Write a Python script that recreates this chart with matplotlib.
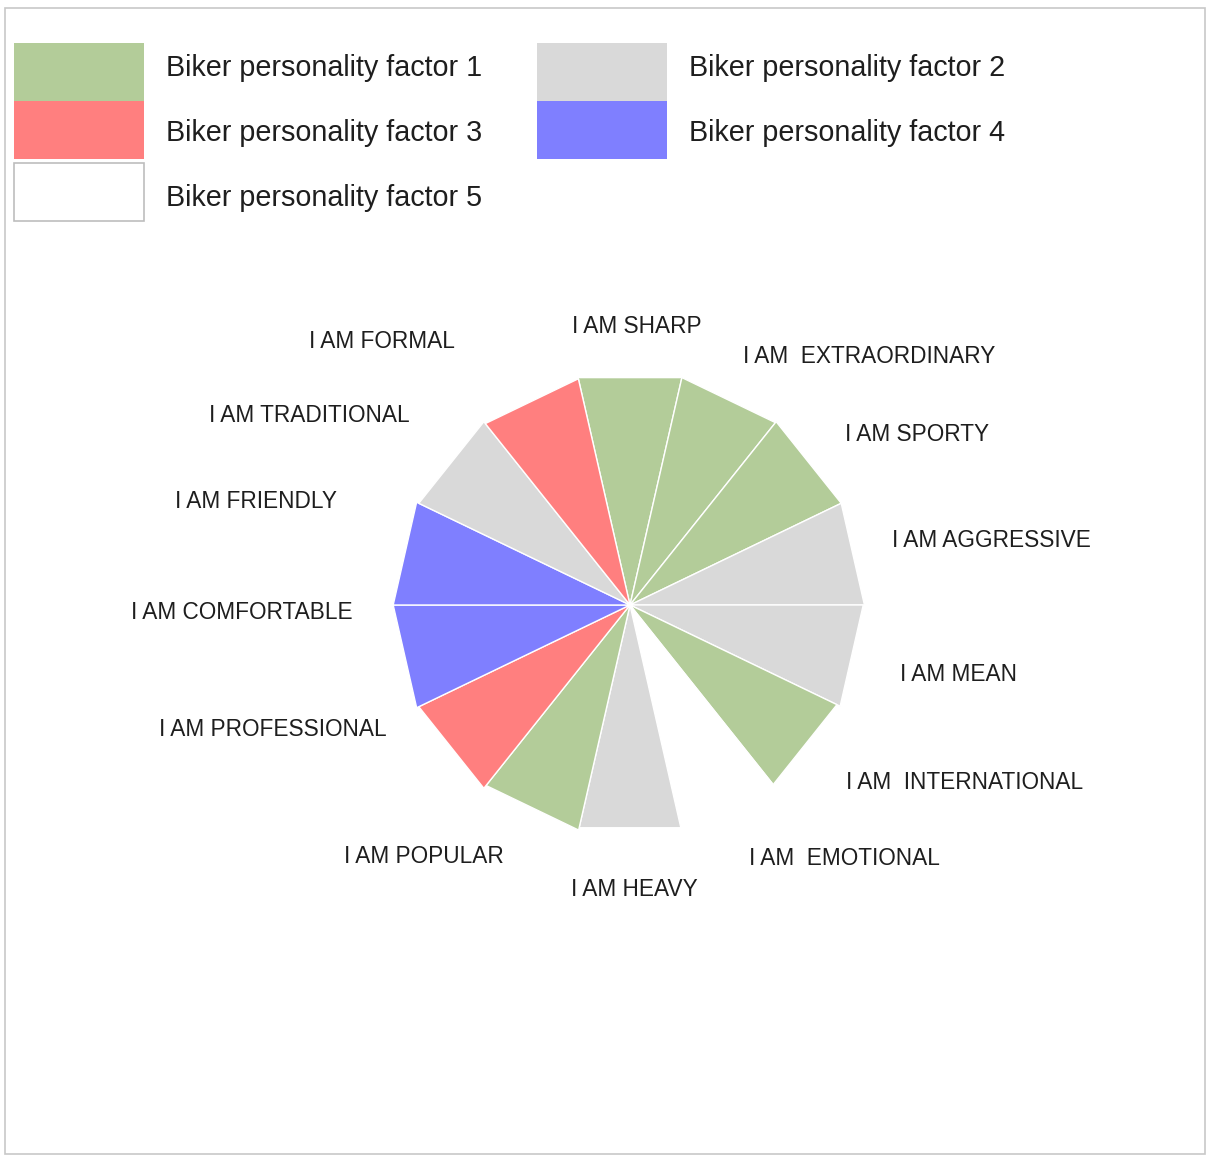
import numpy as np
import matplotlib
matplotlib.use("Agg")
import matplotlib.pyplot as plt
from matplotlib.patches import Polygon, Rectangle

plt.rcParams['font.family'] = ['Liberation Sans', 'DejaVu Sans']

# categories clockwise from the top
categories = ['I AM SHARP', 'I AM  EXTRAORDINARY', 'I AM SPORTY', 'I AM AGGRESSIVE',
              'I AM MEAN', 'I AM  INTERNATIONAL', 'I AM  EMOTIONAL', 'I AM HEAVY',
              'I AM POPULAR', 'I AM PROFESSIONAL', 'I AM COMFORTABLE', 'I AM FRIENDLY',
              'I AM TRADITIONAL', 'I AM FORMAL']
scores = [98, 98, 98.5, 98.5, 98, 96.5, 96, 96, 97, 98.5, 99.5, 99.5, 98.5, 97.5]
factor = [1, 1, 1, 2, 2, 1, 5, 2, 1, 3, 4, 4, 2, 3]

factor_names = ['Biker personality factor 1', 'Biker personality factor 2',
                'Biker personality factor 3', 'Biker personality factor 4',
                'Biker personality factor 5']
factor_colors = {1: '#b3cc99', 2: '#d9d9d9', 3: '#ff7f7f', 4: '#7f7fff', 5: '#ffffff'}

# layout (pixel space)
W, H = 1207, 1156
cx, cy = 630, 605
px_per_unit = 2.38

# label anchors: x, baseline y, alignment
label_pos = [(637, 333, 'center'), (743, 363, 'left'), (845, 441, 'left'),
             (892, 547, 'left'), (900, 681, 'left'), (846, 789, 'left'),
             (749, 865, 'left'), (634, 896, 'center'), (504, 863, 'right'),
             (387, 736, 'right'), (353, 619, 'right'), (337, 508, 'right'),
             (410, 422, 'right'), (455, 348, 'right')]

fig = plt.figure(figsize=(W / 100, H / 100), dpi=100)
ax = fig.add_axes([0, 0, 1, 1])
ax.set_xlim(0, W)
ax.set_ylim(H, 0)
ax.axis('off')

# outer frame
ax.add_patch(Rectangle((5, 8), 1200, 1146, fill=False, edgecolor='#c8c8c8', lw=1.2))

n = len(categories)
step = 2 * np.pi / n
for i, (val, f) in enumerate(zip(scores, factor)):
    r = val * px_per_unit
    a0 = i * step - step / 2
    a1 = i * step + step / 2
    pts = [(cx, cy),
           (cx + r * np.sin(a0), cy - r * np.cos(a0)),
           (cx + r * np.sin(a1), cy - r * np.cos(a1))]
    ax.add_patch(Polygon(pts, closed=True, facecolor=factor_colors[f],
                         edgecolor='white', lw=1.0, joinstyle='miter'))

for name, (x, y, ha) in zip(categories, label_pos):
    ax.text(x, y, name, ha=ha, va='baseline', fontsize=16.3, color='#1e1e1e')

# legend in two columns: swatch box and text baseline per entry
legend_boxes = [(14, 43), (537, 43), (14, 101), (537, 101), (14, 163)]
legend_text = [(166, 76), (689, 76), (166, 141), (689, 141), (166, 206)]
for (x, y), (tx, ty), name, f in zip(legend_boxes, legend_text, factor_names, [1, 2, 3, 4, 5]):
    ec = '#bdbdbd' if f == 5 else factor_colors[f]
    ax.add_patch(Rectangle((x, y), 130, 58, facecolor=factor_colors[f], edgecolor=ec,
                           lw=1.2 if f == 5 else 0))
    ax.text(tx, ty, name, ha='left', va='baseline', fontsize=20.7, color='#1e1e1e')

fig.savefig('out.png', dpi=100)
